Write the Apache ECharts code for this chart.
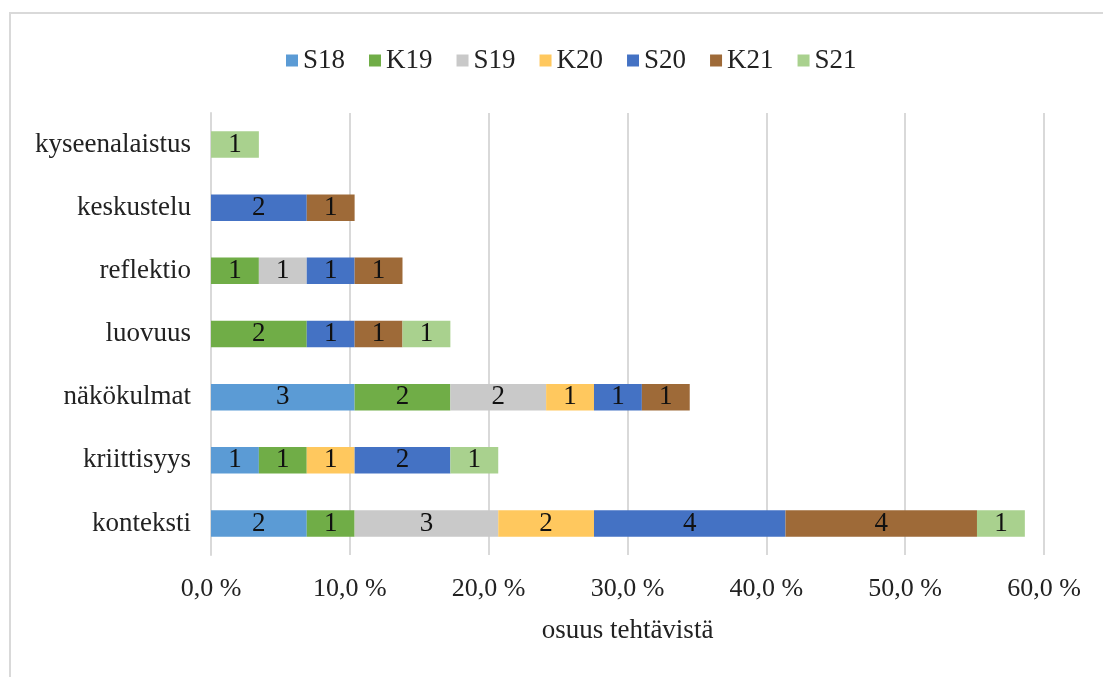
<!DOCTYPE html>
<html>
<head>
<meta charset="utf-8">
<script src="https://cdn.jsdelivr.net/npm/echarts@6/dist/echarts.min.js"></script>
<style>
html,body{margin:0;padding:0;background:#fff;}
#chart{width:1103px;height:677px;}
</style>
</head>
<body>
<div id="chart"></div>
<script>
// categories bottom -> top
const categories = ['konteksti','kriittisyys','näkökulmat','luovuus','reflektio','keskustelu','kyseenalaistus'];
const seriesNames = ['S18','K19','S19','K20','S20','K21','S21'];
// counts of tasks per category (labels shown in bars)
const S18 = [2,1,3,0,0,0,0];
const K19 = [1,1,2,2,1,0,0];
const S19 = [3,0,2,0,1,0,0];
const K20 = [2,1,1,0,0,0,0];
const S20 = [4,2,1,1,1,2,0];
const K21 = [4,0,1,1,1,1,0];
const S21 = [1,1,0,1,0,0,1];
const totalTasks = 29;
const xTicks = [0,10,20,30,40,50,60];
const colors = ['#5B9BD5','#70AD47','#C9C9C9','#FFC85E','#4472C4','#9E6A38','#A9D18E'];
const counts = [S18,K19,S19,K20,S20,K21,S21];

const FONT = '"Liberation Serif", "Times New Roman", serif';
const chart = echarts.init(document.getElementById('chart'));
chart.setOption({
  animation:false,
  backgroundColor:'#fff',
  textStyle:{fontFamily:FONT},
  graphic:[{type:'rect',shape:{x:10,y:13,width:1200,height:800},style:{fill:'none',stroke:'#D9D9D9',lineWidth:2},silent:true}],
  legend:{
    top:42, left:281,
    itemWidth:12, itemHeight:12, itemGap:24,
    icon:'rect',
    textStyle:{fontFamily:FONT,fontSize:27,color:'#222',padding:[0,0,0,0]},
    data:seriesNames
  },
  grid:{left:211,right:59,top:113,bottom:122,containLabel:false},
  xAxis:{
    type:'value',min:xTicks[0],max:xTicks[xTicks.length-1],interval:10,
    axisLine:{show:false},axisTick:{show:false},
    splitLine:{show:true,lineStyle:{color:'#D9D9D9',width:2}},
    axisLabel:{margin:21,fontFamily:FONT,fontSize:26,color:'#222',
      formatter:v=>v.toFixed(1).replace('.',',')+' %'},
    name:'osuus tehtävistä',nameLocation:'middle',nameGap:62,
    nameTextStyle:{fontFamily:FONT,fontSize:27,color:'#222'}
  },
  yAxis:{
    type:'category',data:categories,
    axisLine:{show:true,lineStyle:{color:'#D9D9D9',width:2}},
    axisTick:{show:false},
    axisLabel:{margin:20,fontFamily:FONT,fontSize:27,color:'#222'}
  },
  series:seriesNames.map((n,i)=>({
    name:n,type:'bar',stack:'total',barCategoryGap:'58%',
    itemStyle:{color:colors[i]},
    data:counts[i].map(c=>c===0?null:c/totalTasks*100),
    label:{show:true,position:'inside',fontFamily:FONT,fontSize:27,color:'#111',
      formatter:p=>String(counts[i][p.dataIndex])}
  }))
});
</script>
</body>
</html>
